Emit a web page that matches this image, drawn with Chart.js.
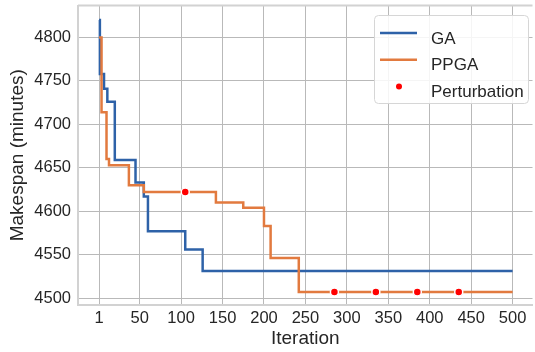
<!DOCTYPE html>
<html>
<head>
<meta charset="utf-8">
<script src="https://cdn.jsdelivr.net/npm/chart.js@4"></script>
<style>
  html, body { margin: 0; padding: 0; background: #fff; overflow: hidden; }
  #wrap { width: 535px; height: 352px; overflow: hidden; }
</style>
</head>
<body>
<div id="wrap"><canvas id="chart" width="538" height="352"></canvas></div>
<script>
// valeurs (points où la courbe change de palier)
const gaIter = [1, 2, 7, 11, 20, 45, 55, 60, 105, 126, 500];
const gaMakespan = [4820, 4758, 4741, 4726, 4659, 4633, 4617, 4577, 4556, 4531, 4531];

const ppgaIter = [1, 4, 10, 13, 37, 55, 142, 175, 200, 208, 242, 500];
const ppgaMakespan = [4800, 4714, 4660, 4653, 4630, 4622, 4610, 4604, 4583, 4546, 4507, 4507];

const perturbIter = [105, 285, 335, 385, 435];
const perturbMakespan = [4622, 4507, 4507, 4507, 4507];

const xTicks = [1, 50, 100, 150, 200, 250, 300, 350, 400, 450, 500];
const yTicks = [4500, 4550, 4600, 4650, 4700, 4750, 4800];

const FONT = 'Arial, "Liberation Sans", sans-serif';
const TEXT = '#262626';
const GRID = '#b9b9b9';
const SPINE = '#d2d2d2';

const toPoints = (xs, ys) => xs.map((x, i) => ({ x: x, y: ys[i] }));

// taille fixe des axes, sans marge ajoutée par les étiquettes
function fixSize(prop, size) {
  return (scale) => {
    scale[prop] = size;
    scale.paddingTop = 0;
    scale.paddingBottom = 0;
    scale.paddingLeft = 0;
    scale.paddingRight = 0;
  };
}

// bord haut du cadre + légende encadrée dans le coin
const frameAndLegend = {
  id: 'frameAndLegend',
  beforeDatasetsDraw(chart) {
    const { ctx, chartArea: a } = chart;
    ctx.save();
    ctx.strokeStyle = SPINE;
    ctx.lineWidth = 2;
    ctx.beginPath();
    ctx.moveTo(a.left, a.top);
    ctx.lineTo(a.right, a.top);
    ctx.stroke();
    ctx.restore();
  },
  afterDraw(chart) {
    const ctx = chart.ctx;
    const box = { x: 374, y: 15, w: 154, h: 88, r: 4 };
    ctx.save();
    ctx.beginPath();
    ctx.roundRect(box.x + 0.5, box.y + 0.5, box.w, box.h, box.r);
    ctx.fillStyle = 'rgba(255,255,255,0.85)';
    ctx.fill();
    ctx.strokeStyle = '#d6d6d6';
    ctx.lineWidth = 1;
    ctx.stroke();

    ctx.font = '17px ' + FONT;
    ctx.textBaseline = 'alphabetic';
    ctx.textAlign = 'left';
    chart.data.datasets.forEach((ds, i) => {
      const y = 33 + i * 26.8;
      if (ds.showLine === false) {
        ctx.beginPath();
        ctx.arc(399, y, 3, 0, Math.PI * 2);
        ctx.fillStyle = ds.pointBackgroundColor;
        ctx.fill();
      } else {
        ctx.beginPath();
        ctx.moveTo(380, y);
        ctx.lineTo(417, y);
        ctx.strokeStyle = ds.borderColor;
        ctx.lineWidth = 2.5;
        ctx.stroke();
      }
      ctx.fillStyle = TEXT;
      ctx.fillText(ds.label, 431, y + 10.5);
    });
    ctx.restore();
  }
};

new Chart(document.getElementById('chart'), {
  type: 'line',
  data: {
    datasets: [
      {
        label: 'GA',
        data: toPoints(gaIter, gaMakespan),
        borderColor: '#2e62a8',
        borderWidth: 2.5,
        stepped: true,
        pointRadius: 0,
        fill: false,
        order: 3
      },
      {
        label: 'PPGA',
        data: toPoints(ppgaIter, ppgaMakespan),
        borderColor: '#e27a3f',
        borderWidth: 2.5,
        stepped: true,
        pointRadius: 0,
        fill: false,
        order: 2
      },
      {
        label: 'Perturbation',
        data: toPoints(perturbIter, perturbMakespan),
        showLine: false,
        pointRadius: 4,
        pointBackgroundColor: '#ff0000',
        pointBorderColor: '#ffffff',
        pointBorderWidth: 1.5,
        order: 1
      }
    ]
  },
  options: {
    responsive: false,
    animation: false,
    layout: { padding: { top: 5, left: 0, right: 0, bottom: 0 } },
    plugins: {
      legend: { display: false },
      tooltip: { enabled: false }
    },
    scales: {
      x: {
        type: 'linear',
        min: -24.4,
        max: 524,
        afterBuildTicks: (s) => { s.ticks = xTicks.map(v => ({ value: v })); },
        afterFit: fixSize('height', 47),
        ticks: {
          autoSkip: false,
          maxRotation: 0,
          padding: 4,
          color: TEXT,
          font: { family: FONT, size: 16.5 },
          callback: (v) => String(v)
        },
        grid: { color: GRID, lineWidth: 1, drawTicks: false },
        border: { color: SPINE, width: 2 },
        title: {
          display: true,
          text: 'Iteration',
          color: TEXT,
          font: { family: FONT, size: 19 },
          padding: { top: 0, bottom: 2 }
        }
      },
      y: {
        type: 'linear',
        min: 4492,
        max: 4836.8,
        afterBuildTicks: (s) => { s.ticks = yTicks.map(v => ({ value: v })); },
        afterFit: fixSize('width', 78),
        ticks: {
          padding: 7,
          color: TEXT,
          font: { family: FONT, size: 16.5 },
          callback: (v) => String(v)
        },
        grid: { color: GRID, lineWidth: 1, drawTicks: false },
        border: { color: SPINE, width: 2 },
        title: {
          display: true,
          text: 'Makespan (minutes)',
          color: TEXT,
          font: { family: FONT, size: 19 },
          padding: { top: 6, bottom: 0 }
        }
      }
    }
  },
  plugins: [frameAndLegend]
});
</script>
</body>
</html>
